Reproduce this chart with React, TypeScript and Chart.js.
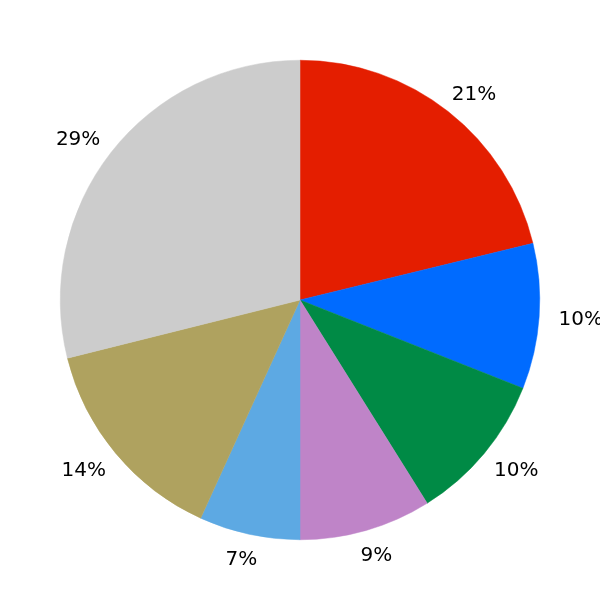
import React, { useEffect, useRef } from "react";
import { Chart, registerables } from "chart.js";

Chart.register(...registerables);

const categories = ["A", "B", "C", "D", "E", "F", "G"];
const values = [21.2, 9.8, 10.1, 8.9, 6.8, 14.3, 28.9];
const colors = ["#e41e00", "#006bff", "#008a45", "#bf84c8", "#5da9e3", "#afa25f", "#cccccc"];

const labelPlugin = {
  id: "outerLabels",
  afterDraw(chart: any) {
    const ctx = chart.ctx;
    const meta = chart.getDatasetMeta(0);
    const data = chart.data.datasets[0].data as number[];
    const total = data.reduce((a, b) => a + b, 0);
    const size = 20;
    ctx.save();
    ctx.font = size + "px 'DejaVu Sans'";
    ctx.fillStyle = "#000";
    ctx.textAlign = "center";
    ctx.textBaseline = "alphabetic";
    meta.data.forEach((arc: any, i: number) => {
      const { x, y, startAngle, endAngle, outerRadius } = arc.getProps(
        ["x", "y", "startAngle", "endAngle", "outerRadius"],
        true
      );
      const mid = (startAngle + endAngle) / 2;
      const d = outerRadius * 1.1;
      const text = Math.round((data[i] / total) * 100) + "%";
      const w = ctx.measureText(text).width;
      const px = x + d * Math.cos(mid) + 0.8 * (w / 2) * Math.cos(mid);
      const py = y + d * Math.sin(mid);
      ctx.fillText(text, px, py + size * 0.36);
    });
    ctx.restore();
  },
};

export default function App() {
  const ref = useRef<HTMLCanvasElement | null>(null);
  useEffect(() => {
    if (!ref.current) return;
    const chart = new Chart(ref.current, {
      type: "pie",
      data: {
        labels: categories,
        datasets: [
          {
            data: values,
            backgroundColor: colors,
            borderColor: colors,
            borderWidth: 0.5,
          },
        ],
      },
      options: {
        responsive: false,
        animation: false,
        layout: { padding: 60 },
        plugins: {
          legend: { display: false },
          tooltip: { enabled: false },
        },
      },
      plugins: [labelPlugin],
    });
    return () => chart.destroy();
  }, []);
  return (
    <div style={{ position: "absolute", left: 0, top: 0, width: 600, height: 600, background: "#fff" }}>
      <canvas ref={ref} width={600} height={600} style={{ width: 600, height: 600 }} />
    </div>
  );
}
